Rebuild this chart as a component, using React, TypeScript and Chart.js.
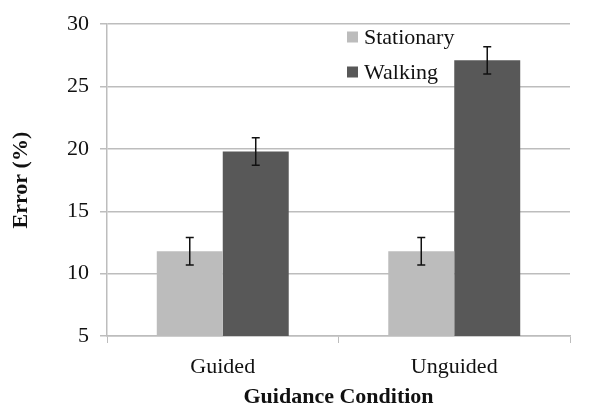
import React, { useEffect, useRef } from "react";
import { Chart, registerables } from "chart.js";

Chart.register(...registerables);

const categories = ["Guided", "Unguided"];
const seriesNames = ["Stationary", "Walking"];
const stationary = [11.8, 11.8];
const walking = [19.8, 27.1];
const stationaryErr = [1.1, 1.1];
const walkingErr = [1.1, 1.1];
const yTicks = [5, 10, 15, 20, 25, 30];

const LIGHT = "#bcbcbc";
const DARK = "#585858";
const GRID = "#bdbdbd";
const FONT = "Liberation Serif";

const errorBarPlugin = {
  id: "errorBars",
  afterDatasetsDraw(chart: any) {
    const ctx = chart.ctx;
    const yScale = chart.scales.y;
    const errs = [stationaryErr, walkingErr];
    ctx.save();
    ctx.strokeStyle = "#111";
    ctx.lineWidth = 1.5;
    chart.data.datasets.forEach((ds: any, di: number) => {
      const meta = chart.getDatasetMeta(di);
      meta.data.forEach((bar: any, i: number) => {
        const v = ds.data[i];
        const e = errs[di][i];
        const x = bar.x;
        const yt = yScale.getPixelForValue(v + e);
        const yb = yScale.getPixelForValue(v - e);
        ctx.beginPath();
        ctx.moveTo(x, yt);
        ctx.lineTo(x, yb);
        ctx.moveTo(x - 4, yt);
        ctx.lineTo(x + 4, yt);
        ctx.moveTo(x - 4, yb);
        ctx.lineTo(x + 4, yb);
        ctx.stroke();
      });
    });
    ctx.restore();
  },
};

const legendPlugin = {
  id: "innerLegend",
  afterDraw(chart: any) {
    const ctx = chart.ctx;
    ctx.save();
    ctx.font = `22px "${FONT}"`;
    ctx.textBaseline = "middle";
    ctx.textAlign = "left";
    chart.data.datasets.forEach((ds: any, i: number) => {
      const cy = 37 + i * 35;
      ctx.fillStyle = ds.backgroundColor;
      ctx.fillRect(347, cy - 5.5, 11, 11);
      ctx.fillStyle = "#111";
      ctx.fillText(ds.label, 364, cy + 1);
    });
    ctx.restore();
  },
};

export default function App() {
  const ref = useRef<HTMLCanvasElement | null>(null);
  useEffect(() => {
    if (!ref.current) return;
    const chart = new Chart(ref.current, {
      type: "bar",
      data: {
        labels: categories,
        datasets: [
          { label: seriesNames[0], data: stationary, backgroundColor: LIGHT },
          { label: seriesNames[1], data: walking, backgroundColor: DARK },
        ],
      },
      options: {
        animation: false,
        responsive: false,
        layout: { padding: { left: 0, top: 21, right: 31, bottom: 0 } },
        plugins: {
          legend: { display: false },
          tooltip: { enabled: false },
        },
        datasets: {
          bar: { barPercentage: 1, categoryPercentage: 0.57 },
        },
        scales: {
          x: {
            afterFit(scale: any) {
              scale.height = 77;
            },
            grid: {
              drawOnChartArea: false,
              drawTicks: true,
              offset: true,
              tickLength: 7,
              color: GRID,
            },
            border: { color: GRID, width: 1.5 },
            ticks: {
              color: "#111",
              font: { family: FONT, size: 22 },
              padding: 11,
            },
            title: {
              display: true,
              text: "Guidance Condition",
              color: "#111",
              font: { family: FONT, size: 22, weight: "bold" },
              padding: { top: 2, bottom: 2 },
            },
          },
          y: {
            min: 5,
            max: 30,
            afterFit(scale: any) {
              scale.width = 107;
            },
            afterBuildTicks(scale: any) {
              scale.ticks = yTicks.map((v) => ({ value: v }));
            },
            grid: { color: GRID, lineWidth: 1.5, tickLength: 7 },
            border: { color: GRID, width: 1.5 },
            ticks: {
              color: "#111",
              font: { family: FONT, size: 22 },
              padding: 11,
            },
            title: {
              display: true,
              text: "Error (%)",
              color: "#111",
              font: { family: FONT, size: 22, weight: "bold" },
              padding: { top: 8, bottom: 10 },
            },
          },
        },
      },
      plugins: [errorBarPlugin, legendPlugin],
    });
    return () => chart.destroy();
  }, []);
  return (
    <div style={{ position: "fixed", left: 0, top: 0, width: 601, height: 413, background: "#fff" }}>
      <canvas ref={ref} width={601} height={413} style={{ display: "block" }} />
    </div>
  );
}
